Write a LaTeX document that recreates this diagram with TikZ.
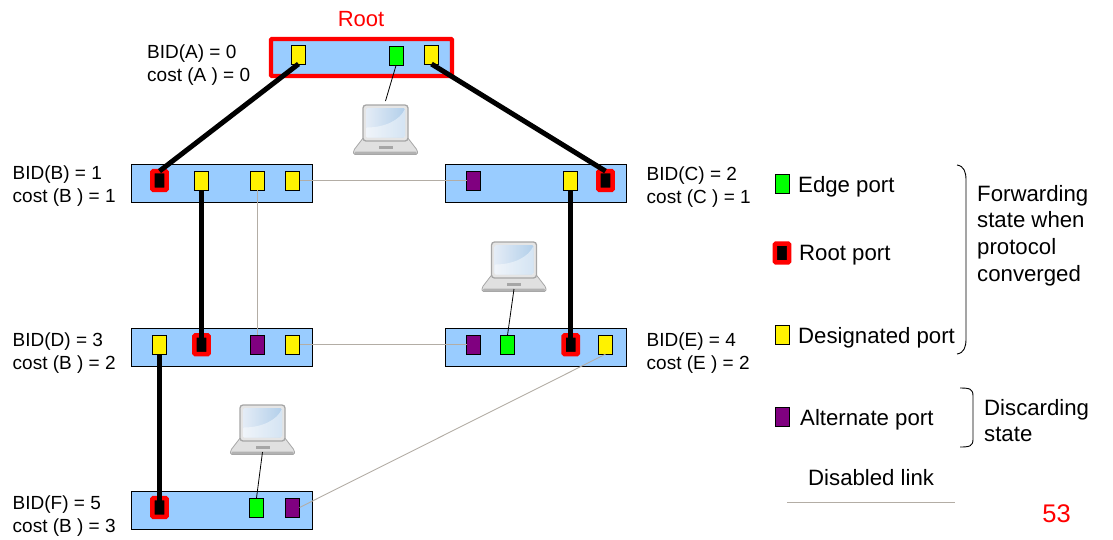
\documentclass[tikz,border=0pt]{standalone}
\usepackage{fontspec}
\setmainfont{Liberation Sans}
\definecolor{swblue}{HTML}{99CCFF}
\definecolor{altp}{HTML}{800080}
\definecolor{greyl}{HTML}{B3ADA5}
\definecolor{scrA}{HTML}{E4ECF6}
\definecolor{scrB}{HTML}{B2CFEA}
\tikzset{
 x=1pt,y=-1pt,
 sw/.style={draw=black,line width=1.1pt,fill=swblue,minimum width=181pt,minimum height=38pt,inner sep=0,outer sep=0},
 portb/.style={draw=black,line width=.9pt,minimum width=14pt,minimum height=19pt,inner sep=0,outer sep=0},
 edgep/.style={portb,fill=green},
 desp/.style={portb,fill=yellow},
 altport/.style={portb,fill=altp},
 rootp/.style={draw=red,line width=4.4pt,fill=black,rounded corners=1pt,minimum width=14.2pt,minimum height=18.8pt,inner sep=0,outer sep=0},
 thick link/.style={line width=5pt,black},
 thin link/.style={line width=.9pt,greyl},
 lap link/.style={line width=.8pt,black},
 lbl/.style={align=left,anchor=west,font=\fontsize{19}{23}\selectfont,inner sep=0},
 leg/.style={anchor=west,font=\fontsize{22.2}{26}\selectfont,inner sep=0},
 pics/laptop/.style={code={
  \draw[draw=black!35,fill=black!12,line width=.8pt,rounded corners=1.5pt] (-22,33)--(-32,46)--(-32,50)--(32,50)--(32,46)--(22,33)--cycle;
  \fill[black!30,rounded corners=1pt] (-31,47) rectangle (31,49.5);
  \fill[black!35] (-7,41.5) rectangle (7,44);
  \draw[draw=black!35,fill=black!10,line width=1.3pt,rounded corners=3pt] (-22.5,0.5) rectangle (22.5,36.5);
  \shade[left color=scrA,right color=scrB,rounded corners=1.5pt] (-19.5,3.5) rectangle (19.5,33);
  \fill[white,opacity=.45,rounded corners=1pt] (-19.5,23) .. controls (0,23) and (15,15) .. (19.5,4) -- (19.5,33) -- (-19.5,33) -- cycle;
 }}
}
\begin{document}
\begin{tikzpicture}
\useasboundingbox (0,0) rectangle (1113,539);
% switches
\node[sw,minimum width=181pt,minimum height=37pt,draw=red,line width=4.4pt,rounded corners=1pt] (A) at (361.5,57.5) {};
\node[sw] (B) at (222,183.5) {};
\node[sw] (C) at (536,183.5) {};
\node[sw] (D) at (222,347.5) {};
\node[sw] (E) at (536,347.5) {};
\node[sw] (F) at (222,510.5) {};
% ports
\node[desp] (a1) at (298.5,54.5) {};
\node[edgep] (a2) at (396,56) {};
\node[desp] (a3) at (431.5,54.5) {};
\node[rootp] (b1) at (159.5,180.5) {};
\node[desp] (b2) at (201.5,180.5) {};
\node[desp] (b3) at (257.5,180.5) {};
\node[desp] (b4) at (292.5,180.5) {};
\node[altport] (c1) at (473.5,180.5) {};
\node[desp] (c2) at (570.7,180.5) {};
\node[rootp] (c3) at (605.5,180.5) {};
\node[desp] (d1) at (159.5,344.7) {};
\node[rootp] (d2) at (201.5,344.7) {};
\node[altport] (d3) at (257.5,344.7) {};
\node[desp] (d4) at (292.5,344.7) {};
\node[altport] (e1) at (473.5,344.7) {};
\node[edgep] (e2) at (507.5,344.7) {};
\node[rootp] (e3) at (570.7,344.7) {};
\node[desp] (e4) at (605.5,344.7) {};
\node[rootp] (f1) at (159.5,507.5) {};
\node[edgep] (f2) at (256.5,507.5) {};
\node[altport] (f3) at (292.5,507.5) {};
% laptops
\pic at (385.5,104.5) {laptop};
\pic at (514,241.5) {laptop};
\pic at (262.5,404.5) {laptop};
\coordinate (la) at (385.5,101);
\coordinate (le) at (514,289);
\coordinate (lf) at (262.5,452);
% links
\draw[thick link] (a1.south) -- (b1.north);
\draw[thick link] (a3.south) -- (c3.north);
\draw[thick link] (b2.south) -- (d2.center);
\draw[thick link] (c2.south) -- (e3.center);
\draw[thick link] (d1.south) -- (f1.center);
\draw[thin link] (b4.east) -- (c1.west);
\draw[thin link] (b3.south) -- (d3.north);
\draw[thin link] (d4.east) -- (e1.west);
\draw[thin link] (e4.south) -- (f3.east);
\draw[lap link] (a2.south) -- (la);
\draw[lap link] (e2.north) -- (le);
\draw[lap link] (f2.north) -- (lf);
% labels
\node[font=\fontsize{22}{25}\selectfont,text=red,inner sep=0] (root) at (361,19.5) {Root};
\node[lbl] (la1) at (147,65.5) {BID(A) = 0\\cost (A ) = 0};
\node[lbl] (lb1) at (12.5,186) {BID(B) = 1\\cost (B ) = 1};
\node[lbl] (lc1) at (646.5,187) {BID(C) = 2\\cost (C ) = 1};
\node[lbl] (ld1) at (12.5,353) {BID(D) = 3\\cost (B ) = 2};
\node[lbl] (le1) at (646.5,353) {BID(E) = 4\\cost (E ) = 2};
\node[lbl] (lf1) at (12.5,516) {BID(F) = 5\\cost (B ) = 3};
% legend
\node[edgep] (k1) at (782,184) {};
\node[rootp] (k2) at (782,253) {};
\node[desp] (k3) at (782,335) {};
\node[altport] (k4) at (782,417) {};
\node[leg] (t1) at (798,186.5) {Edge port};
\node[leg] (t2) at (799,255.5) {Root port};
\node[leg] (t3) at (798,337.5) {Designated port};
\node[leg] (t4) at (800,419.5) {Alternate port};
\node[leg] (t5) at (808,478) {Disabled link};
\coordinate (dl1) at (787,502);
\coordinate (dl2) at (955,502);
\draw[thin link] (dl1) -- (dl2);
\coordinate (br1a) at (957,165);
\coordinate (br1b) at (957,354);
\draw[line width=.9pt] (br1a) .. controls (964,166) and (966,172) .. (966,180) -- (966,339) .. controls (966,347) and (964,353) .. (br1b);
\coordinate (br2a) at (960,388);
\coordinate (br2b) at (960,447);
\draw[line width=.9pt] (br2a) .. controls (970,388) and (973,389) .. (973,396) -- (973,439) .. controls (973,446) and (970,447) .. (br2b);
\node[leg,align=left,font=\fontsize{22.2}{26.6}\selectfont] (fs) at (977,235.5) {Forwarding\\state when\\protocol\\converged};
\node[leg,align=left,font=\fontsize{22.2}{26.6}\selectfont] (ds) at (984,420.5) {Discarding\\state};
\node[font=\fontsize{25.5}{30}\selectfont,text=red,inner sep=0] (pg) at (1056.5,513.5) {53};
\end{tikzpicture}
\end{document}
